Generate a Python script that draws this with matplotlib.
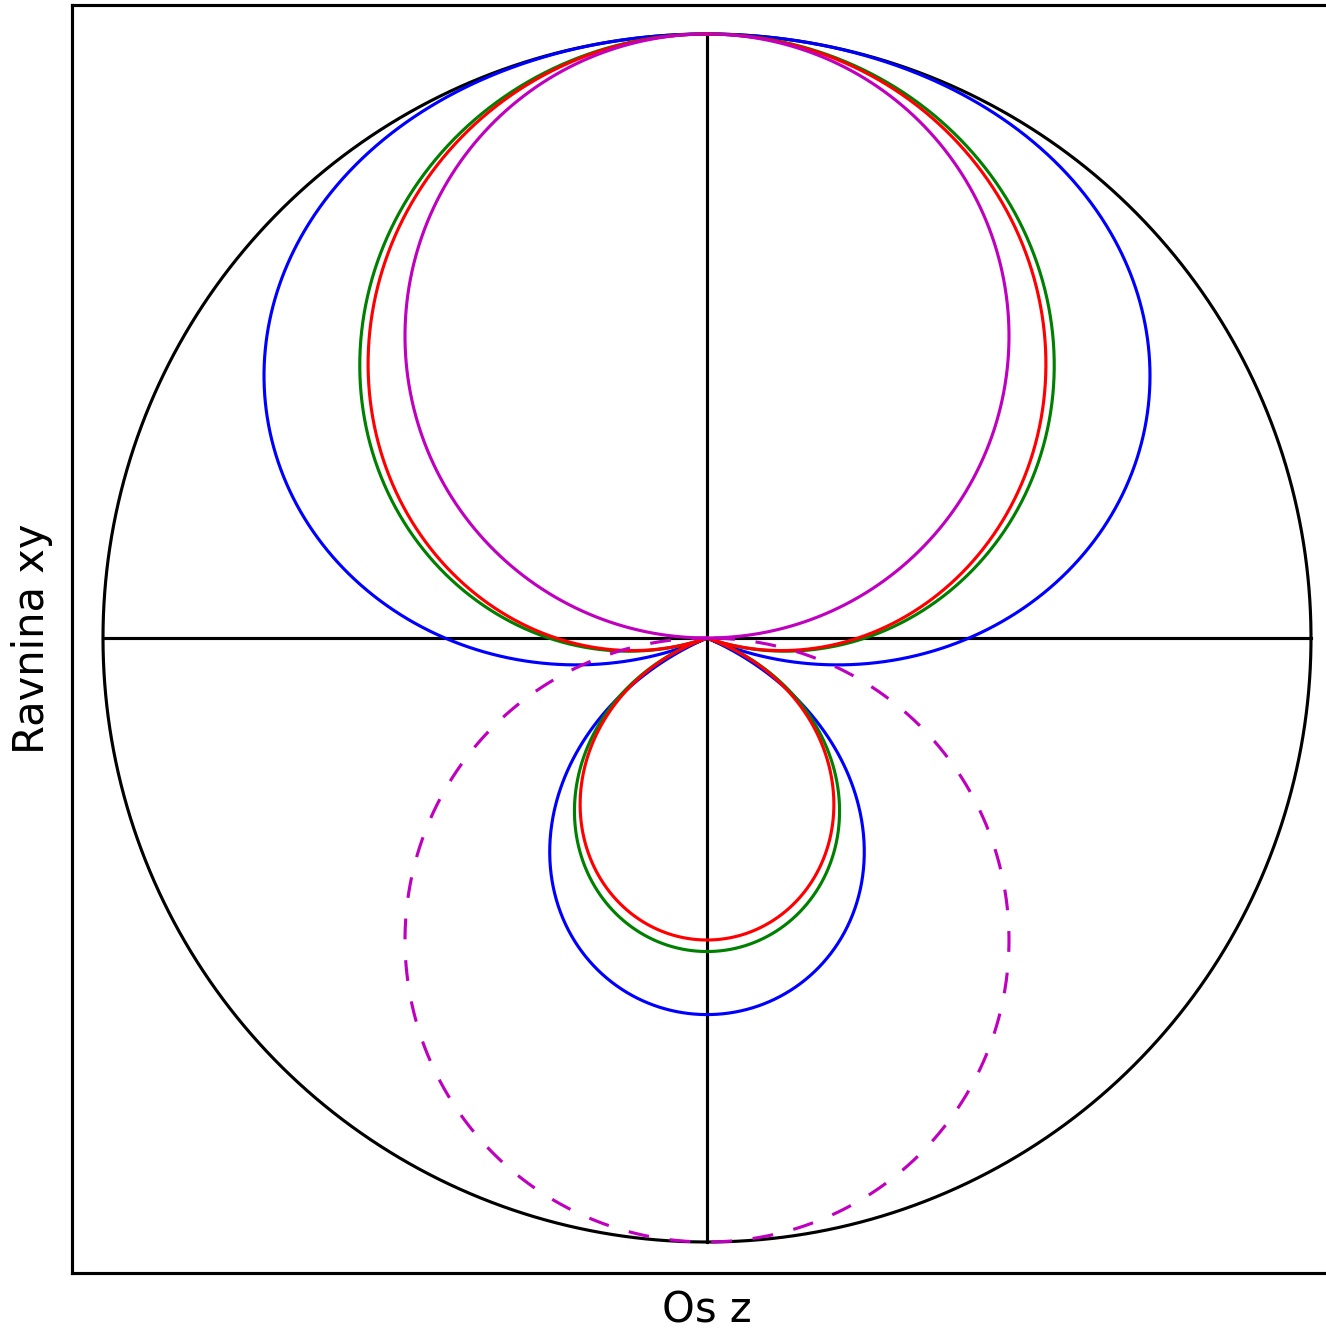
import matplotlib
matplotlib.use("Agg")
import matplotlib.pyplot as plt
import numpy as np

plt.rcParams["lines.scale_dashes"] = False

# first-order directivity |sin(b*(T + cos th))|, scaled to its peak;
# b = 0 is the low-frequency limit |T + cos th| / (1 + T)
curve_colors = ["#0000ff", "#008000", "#ff0000"]
curve_T = [0.40, 1 / 3, 1 / 3]
curve_b = [1.122, 0.408, 0.0]
# figure-of-eight (T = 0), back lobe drawn dashed
dipole_T = 0.0
dipole_color = "#bf00bf"

LW = 1.5
DPI = 150


def directivity(T, b, th):
    u = np.cos(th)
    f = np.sin(b * (T + u)) if b > 0 else T + u
    return f / np.abs(f).max()


fig = plt.figure(figsize=(1327 / DPI, 1329 / DPI), dpi=DPI)
ax = fig.add_axes([72 / 1327, 56 / 1329, 1270 / 1327, 1268 / 1329])

th = np.linspace(0, 2 * np.pi, 2001)

# unit circle and the two reference lines
ax.plot(np.sin(th), np.cos(th), color="k", lw=LW)
ax.plot([-1, 1], [0, 0], color="k", lw=LW)
ax.plot([0, 0], [-1, 1], color="k", lw=LW)

for T, b, c in zip(curve_T, curve_b, curve_colors):
    r = np.abs(directivity(T, b, th))
    ax.plot(r * np.sin(th), r * np.cos(th), color=c, lw=LW)

th_front = np.linspace(-np.pi / 2, np.pi / 2, 1001)
th_back = np.linspace(np.pi / 2, 3 * np.pi / 2, 1001)
rf = np.abs(directivity(dipole_T, 0.0, th_front))
rb = np.abs(directivity(dipole_T, 0.0, th_back))
ax.plot(rf * np.sin(th_front), rf * np.cos(th_front), color=dipole_color, lw=LW)
ax.plot(rb * np.sin(th_back), rb * np.cos(th_back), color=dipole_color, lw=LW,
        ls=(16.6, (10, 10)))

ax.set_xlim(-635 / 604, 635 / 604)
ax.set_ylim(-635 / 604, 633 / 604)
ax.set_xticks([])
ax.set_yticks([])
for s in ax.spines.values():
    s.set_linewidth(LW)
ax.set_xlabel("Os z", fontsize=20, labelpad=8)
ax.set_ylabel("Ravnina xy", fontsize=20, labelpad=9)

fig.savefig("out.png", dpi=DPI)
